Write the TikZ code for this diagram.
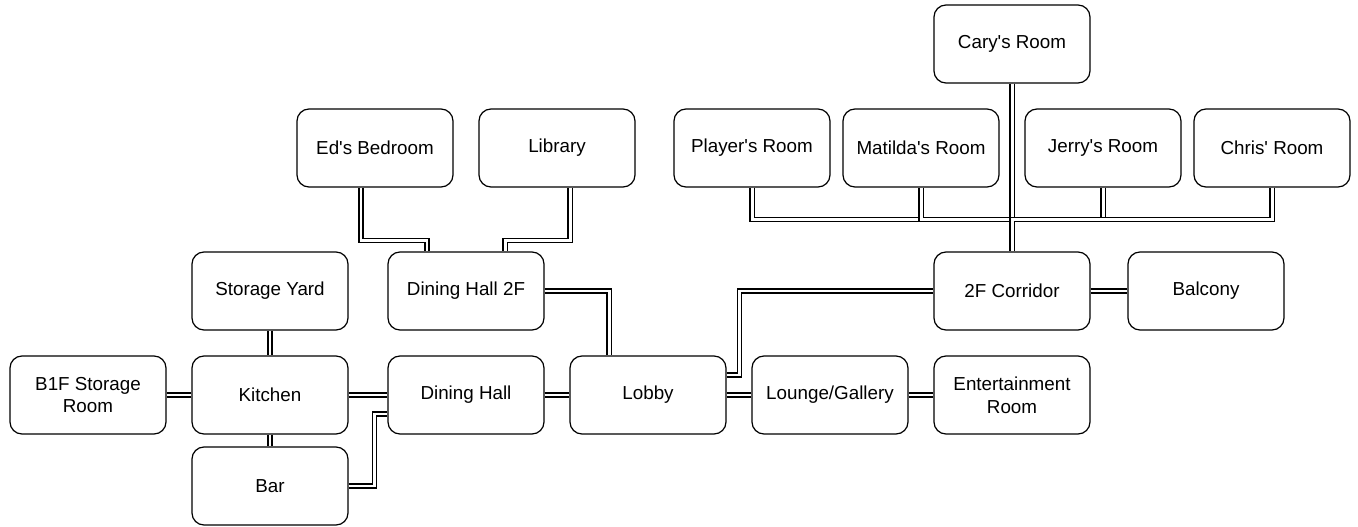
\documentclass[tikz,border=0pt]{standalone}
\usepackage{fontspec}
\setmainfont{Liberation Sans}
\usetikzlibrary{positioning}

\begin{document}
\begin{tikzpicture}[every node/.style={font=\fontsize{10.7}{13}\selectfont}, room/.style={draw, line width=0.7pt, rounded corners=2.4mm, minimum width=3.12cm, minimum height=1.56cm, align=center, inner sep=1pt}, pass/.style={draw, line width=0.65pt, double, double distance=1.7pt}]
	\useasboundingbox (0,0) rectangle (27.16,-10.54);
	% upper floor
	\node[room] (cary) at (20.24,-0.88) {Cary\textquotesingle s Room};
	\node[room] (ed) at (7.50,-2.96) {Ed\textquotesingle s Bedroom};
	\node[room] (lib) at (11.14,-2.96) {Library};
	\node[room] (player) at (15.04,-2.96) {Player\textquotesingle s Room};
	\node[room] (matilda) at (18.42,-2.96) {Matilda\textquotesingle s Room};
	\node[room] (jerry) at (22.06,-2.96) {Jerry\textquotesingle s Room};
	\node[room] (chris) at (25.44,-2.96) {Chris\textquotesingle{} Room};
	\node[room] (yard) at (5.40,-5.82) {Storage Yard};
	\node[room] (dh2) at (9.32,-5.82) {Dining Hall 2F};
	\node[room] (corr) at (20.24,-5.82) {2F Corridor};
	\node[room] (balc) at (24.12,-5.82) {Balcony};
	% ground floor
	\node[room] (b1f) at (1.76,-7.90) {B1F Storage\\Room};
	\node[room] (kit) at (5.40,-7.90) {Kitchen};
	\node[room] (dh) at (9.32,-7.90) {Dining Hall};
	\node[room] (lobby) at (12.96,-7.90) {Lobby};
	\node[room] (lounge) at (16.60,-7.90) {Lounge/Gallery};
	\node[room] (ent) at (20.24,-7.90) {Entertainment\\Room};
	\node[room] (bar) at (5.40,-9.72) {Bar};
	% passages
	\foreach \a/\b in {b1f/kit, kit/dh, dh/lobby, lobby/lounge, lounge/ent, corr/balc} {\draw[pass] (\a.east) -- (\b.west);}
	\foreach \a/\b in {yard/kit, kit/bar, cary/corr} {\draw[pass] (\a.south) -- (\b.north);}
	\foreach \r in {player, matilda, jerry, chris} {\draw[pass] (\r.south) -- ++(0,-0.64) -| (corr.north);}
	\draw[pass] ([xshift=-2.8mm]ed.south) -- ++(0,-1.06) -| ([xshift=-7.8mm]dh2.north);
	\draw[pass] ([xshift=2.6mm]lib.south) -- ++(0,-1.06) -| ([xshift=7.8mm]dh2.north);
	\draw[pass] (dh2.east) -| ([xshift=-7.8mm]lobby.north);
	\draw[pass] ([yshift=4mm]lobby.east) -- ++(0.26,0) |- (corr.west);
	\draw[pass] (bar.east) -- ++(0.52,0) |- ([yshift=-3.8mm]dh.west);
\end{tikzpicture}
\end{document}
